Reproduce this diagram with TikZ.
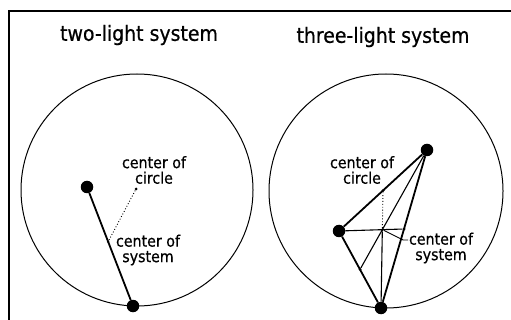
\documentclass[tikz,border=0pt]{standalone}
\usepackage{fontspec}
\setmainfont{DejaVu Sans Condensed}[FakeBold=0.6]
\usetikzlibrary{calc}

\tikzset{
  light/.style={circle, fill=black, inner sep=0pt, minimum size=12.5pt},
  spot/.style={circle, fill=black, inner sep=0pt, minimum size=3pt},
  lbl/.style={font=\fontsize{15.8}{15.5}\selectfont, align=center, inner sep=1pt},
  ttl/.style={font=\fontsize{21}{24}\selectfont, inner sep=0pt},
  edge/.style={line width=1.8pt},
  median/.style={line width=1.1pt},
  rim/.style={line width=1pt},
}

\begin{document}
\begin{tikzpicture}[x=1pt, y=-1pt]

\useasboundingbox (0,0) rectangle (511,320);
\fill[white] (0,0) rectangle (511,320);

% frame
\draw[line width=2pt] (9,320) -- (9,11) -- (511,11);

% === LEFT: TWO LIGHTS ===
\node[ttl] (ttwo) at (139,35) {two-light system};
\draw[rim] (137,190) circle[radius=116];

\node[light] (L1) at (87,187) {};
\node[light] (L2) at (133,306) {};
\node[spot] (Lc) at (136,189) {};
\node[spot, minimum size=2.5pt] (Ls) at ($(L1)!0.46!(L2)$) {};

\draw[edge] (L1) -- (L2);
\draw[line width=0.9pt, dotted] (Lc) -- (Ls);

\node[lbl] (lcirc) at (154,170) {center of\\circle};
\node[lbl] (lsys) at (148,250) {center of\\system};

% === RIGHT: THREE LIGHTS ===
\node[ttl] (tthree) at (383,37) {three-light system};
\draw[rim] (386,191) circle[radius=117];

\node[light] (A) at (427,150) {};
\node[light] (B) at (339,231) {};
\node[light] (C) at (381,308) {};

\node[spot] (mBC) at ($(B)!0.5!(C)$) {};
\node[spot] (mAC) at ($(A)!0.5!(C)$) {};
\node[spot] (mAB) at ($(A)!0.5!(B)$) {};
\node[spot] (G) at ($(A)!2/3!(mBC)$) {};

\draw[edge] (A) -- (B) -- (C) -- (A);
\draw[median] (A) -- (mBC);
\draw[median] (B) -- (mAC);
\draw[median] (C) -- (G);
\draw[line width=0.9pt, dotted] (G) -- (mAB);

\coordinate (k1) at (403,240);
\coordinate (k2) at (408,240);
\draw[line width=0.9pt] (G) -- (k1) -- (k2);

\node[lbl] (rcirc) at (362,170) {center of\\circle};
\node[lbl] (rsys) at (441,248) {center of\\system};

\end{tikzpicture}
\end{document}
